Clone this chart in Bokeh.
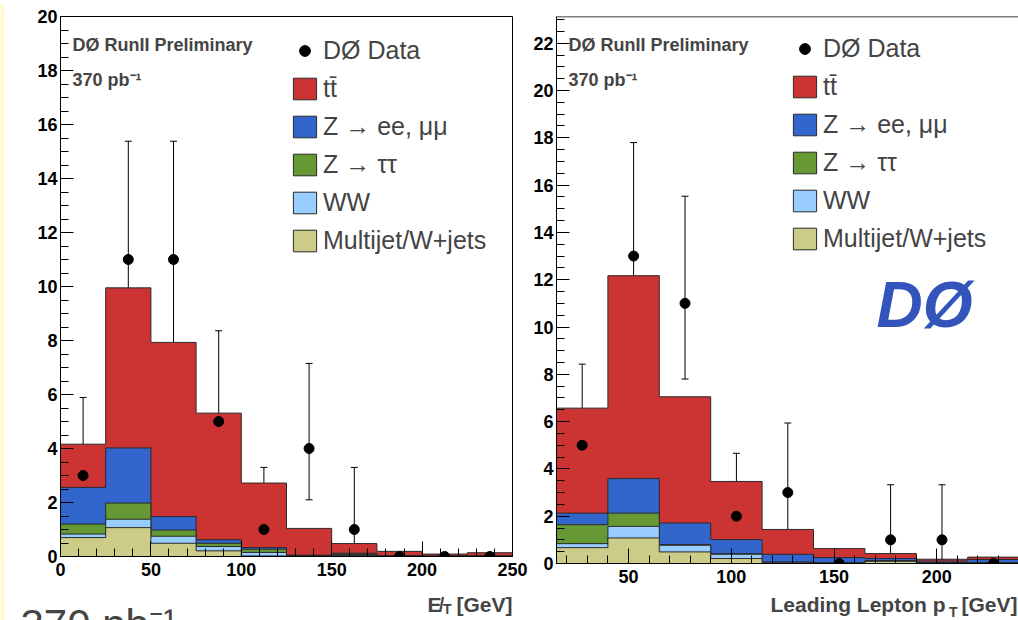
import numpy as np
from bokeh.plotting import figure
from bokeh.models import (ColumnDataSource, Whisker, TeeHead, Legend, LegendItem, Label, Span,
                          SingleIntervalTicker, Range1d)
from bokeh.layouts import row, column
from bokeh.embed import file_html
from bokeh.resources import INLINE

# ---------------- data: missing ET (left) ----------------
met_edges = [0, 25, 50, 75, 100, 125, 150, 175, 200, 225, 250]
met_multijet = [0.70, 1.07, 0.49, 0.21, 0.02, 0.01, 0.03, 0.01, 0.00, 0.00]
met_ww       = [0.13, 0.31, 0.26, 0.16, 0.13, 0.01, 0.02, 0.00, 0.01, 0.01]
met_ztautau  = [0.37, 0.60, 0.23, 0.12, 0.12, 0.01, 0.03, 0.01, 0.00, 0.01]
met_zll      = [1.36, 2.04, 0.50, 0.13, 0.06, 0.02, 0.04, 0.01, 0.01, 0.01]
met_ttbar    = [1.60, 5.93, 6.45, 4.69, 2.39, 0.99, 0.36, 0.16, 0.07, 0.11]
met_data     = [3, 11, 11, 5, 1, 4, 1, 0, 0, 0]
met_err_low  = [1.37, 7.74, 7.74, 2.84, 0.17, 2.10, 0.17, 0, 0, 0]
met_err_high = [5.89, 15.38, 15.38, 8.36, 3.30, 7.15, 3.30, 0, 0, 0]

# ---------------- data: leading lepton pT (right) ----------------
pt_edges = [15, 40, 65, 90, 115, 140, 165, 190, 215, 240]
pt_multijet = [0.67, 1.08, 0.49, 0.21, 0.03, 0.02, 0.09, 0.01, 0.02]
pt_ww       = [0.17, 0.49, 0.28, 0.18, 0.02, 0.01, 0.02, 0.01, 0.01]
pt_ztautau  = [0.80, 0.56, 0.03, 0.03, 0.01, 0.01, 0.01, 0.01, 0.01]
pt_zll      = [0.49, 1.46, 0.91, 0.59, 0.33, 0.21, 0.09, 0.07, 0.13]
pt_ttbar    = [4.44, 8.58, 5.34, 2.46, 1.05, 0.38, 0.21, 0.08, 0.10]
pt_data     = [5, 13, 11, 2, 3, 0, 1, 1, 0]
pt_err_low  = [2.84, 9.51, 7.80, 0.74, 1.37, 0, 0.17, 0.17, 0]
pt_err_high = [8.43, 17.80, 15.53, 4.66, 5.94, 0, 3.33, 3.33, 0]

labels = ["tt\u0304", "Z \u2192 ee, \u03bc\u03bc", "Z \u2192 \u03c4\u03c4", "WW", "Multijet/W+jets"]
colors = ["#CC3333", "#3366CC", "#669933", "#99CCFF", "#CCCC88"]

FONT = "Liberation Sans"
YELLOW = "#FFFAC8"


def step_outline(edges, heights):
    xs, ys = [edges[0]], [0.0]
    for i, h in enumerate(heights):
        xs += [edges[i], edges[i + 1]]
        ys += [h, h]
    xs.append(edges[-1])
    ys.append(0.0)
    return xs, ys


def blank(width, height, color="white", x0=0):
    f = figure(width=width, height=height, x_range=Range1d(x0, x0 + width), y_range=Range1d(0, height),
               x_axis_type=None, y_axis_type=None, output_backend="svg", toolbar_location=None,
               title=None, min_border=0, min_border_left=0, min_border_right=0, min_border_top=0,
               min_border_bottom=0)
    f.outline_line_color = None
    f.background_fill_color = color
    f.border_fill_color = color
    f.grid.visible = False
    return f


def make_panel(edges, comps, data, elo, ehi, xr, yr, width, height, borders,
               legend_loc, show_outline, top_off):
    p = figure(width=width, height=height, x_range=Range1d(*xr), y_range=Range1d(*yr),
               output_backend="svg", toolbar_location=None,
               min_border_left=borders[0], min_border_right=borders[1],
               min_border_top=borders[2], min_border_bottom=borders[3])
    p.background_fill_color = "white"
    p.border_fill_color = "white"
    p.grid.visible = False
    if show_outline:
        p.outline_line_color = "black"
        p.outline_line_width = 1
    else:
        p.outline_line_color = None
        p.add_layout(Span(location=yr[1], dimension="width", line_color="black", line_width=1.5))

    p.xaxis.ticker = SingleIntervalTicker(interval=50, num_minor_ticks=5)
    p.yaxis.ticker = SingleIntervalTicker(interval=2, num_minor_ticks=4)
    for ax in (p.xaxis[0], p.yaxis[0]):
        ax.axis_line_color = "black"
        ax.major_tick_out = 0
        ax.minor_tick_out = 0
        ax.major_tick_line_color = "black"
        ax.minor_tick_line_color = "black"
        ax.major_label_text_font = FONT
        ax.major_label_text_font_style = "bold"
        ax.major_label_text_font_size = "18px"
        ax.major_label_text_color = "black"
    p.xaxis.major_tick_in = 15
    p.xaxis.minor_tick_in = 8
    p.xaxis.major_label_standoff = 6
    p.yaxis.major_tick_in = 13
    p.yaxis.minor_tick_in = 8
    p.yaxis.major_label_standoff = 3

    # stacked histograms, each layer = cumulative sum (ttbar on top)
    cum = np.zeros(len(edges) - 1)
    cums = []
    for c in reversed(comps):
        cum = cum + np.array(c)
        cums.append(cum.copy())
    cums = list(reversed(cums))
    renderers = []
    for k, cvals in enumerate(cums):
        xs, ys = step_outline(edges, list(cvals))
        r = p.patch(xs, ys, fill_color=colors[k], line_color="#2a2a2a", line_width=1)
        renderers.append(r)

    # data with Poisson error bars
    centers = [(edges[i] + edges[i + 1]) / 2 for i in range(len(data))]
    src = ColumnDataSource(dict(x=centers, y=data))
    nz = [i for i in range(len(data)) if data[i] > 0]
    esrc = ColumnDataSource(dict(x=[centers[i] for i in nz], lo=[elo[i] for i in nz],
                                 hi=[ehi[i] for i in nz]))
    w = Whisker(base="x", lower="lo", upper="hi", source=esrc, line_color="black", line_width=1,
                upper_head=TeeHead(size=7, line_color="black", line_width=1),
                lower_head=TeeHead(size=7, line_color="black", line_width=1))
    p.add_layout(w)
    r_data = p.scatter("x", "y", source=src, size=10, color="black")

    items = [LegendItem(label="D\u00d8 Data", renderers=[r_data])]
    for k in range(5):
        items.append(LegendItem(label=labels[k], renderers=[renderers[k]]))
    leg = Legend(items=items, location=legend_loc, glyph_width=29, glyph_height=27,
                 label_text_font=FONT, label_text_font_size="25px", label_standoff=4,
                 spacing=9, padding=0, margin=0, border_line_color=None,
                 background_fill_alpha=0, label_height=27)
    p.add_layout(leg)

    p.add_layout(Label(x=xr[0], y=yr[1], x_offset=12, y_offset=-(top_off), text="D\u00d8 RunII Preliminary",
                       text_font=FONT, text_font_style="bold", text_font_size="18px",
                       text_baseline="top"))
    p.add_layout(Label(x=xr[0], y=yr[1], x_offset=12, y_offset=-(top_off + 35), text="370 pb\u207b\u00b9",
                       text_font=FONT, text_font_style="bold", text_font_size="18px",
                       text_baseline="top"))
    return p


def add_title(strip, right, main, sub, tail, main_right, sub_right, base, sub_base):
    strip.add_layout(Label(x=right, y=base, text=tail, text_align="right",
                           text_font=FONT, text_font_style="bold", text_font_size="21px",
                           text_baseline="alphabetic"))
    strip.add_layout(Label(x=sub_right, y=sub_base, text=sub, text_align="right",
                           text_font=FONT, text_font_style="bold", text_font_size="14px",
                           text_baseline="alphabetic"))
    strip.add_layout(Label(x=main_right, y=base, text=main, text_align="right",
                           text_font=FONT, text_font_style="bold", text_font_size="21px",
                           text_baseline="alphabetic"))


# left panel (missing ET)
p1 = make_panel(met_edges, [met_ttbar, met_zll, met_ztautau, met_ww, met_multijet],
                met_data, met_err_low, met_err_high, (0, 250), (0, 20), 524, 582,
                (56, 16, 12, 30), (230, 301), True, 18)

# right panel (leading lepton pT)
p2 = make_panel(pt_edges, [pt_ttbar, pt_zll, pt_ztautau, pt_ww, pt_multijet],
                pt_data, pt_err_low, pt_err_high, (15, 239.7), (0, 23.13), 490, 589,
                (28, 0, 8, 30), (234, 310), False, 18)
p2.add_layout(Label(x=15, y=23.13, x_offset=320, y_offset=-252, text="D\u00d8",
                    text_font=FONT, text_font_style="bold italic", text_font_size="64px",
                    text_color="#3355BB", text_baseline="top"))

# bottom strip with axis titles (coordinates = page pixels, y measured from page bottom)
strip = blank(1014, 27, "white", x0=4)
add_title(strip, 512, "E\u0338", "T", "[GeV]", 441, 451, 16.5, 12)
add_title(strip, 1017, "Leading Lepton p", "T", "[GeV]", 945, 957, 16.5, 9)
strip.add_layout(Label(x=20, y=20, text="370 pb\u207b\u00b9", text_font=FONT, text_font_size="42px",
                       text_baseline="top"))

top_band = blank(1018, 4, YELLOW)
left_band = blank(4, 589, YELLOW)
left_band2 = blank(4, 27, YELLOW)

layout = column(top_band, row(left_band, p1, p2), row(left_band2, strip))
open("out.html", "w").write(file_html(layout, INLINE))
